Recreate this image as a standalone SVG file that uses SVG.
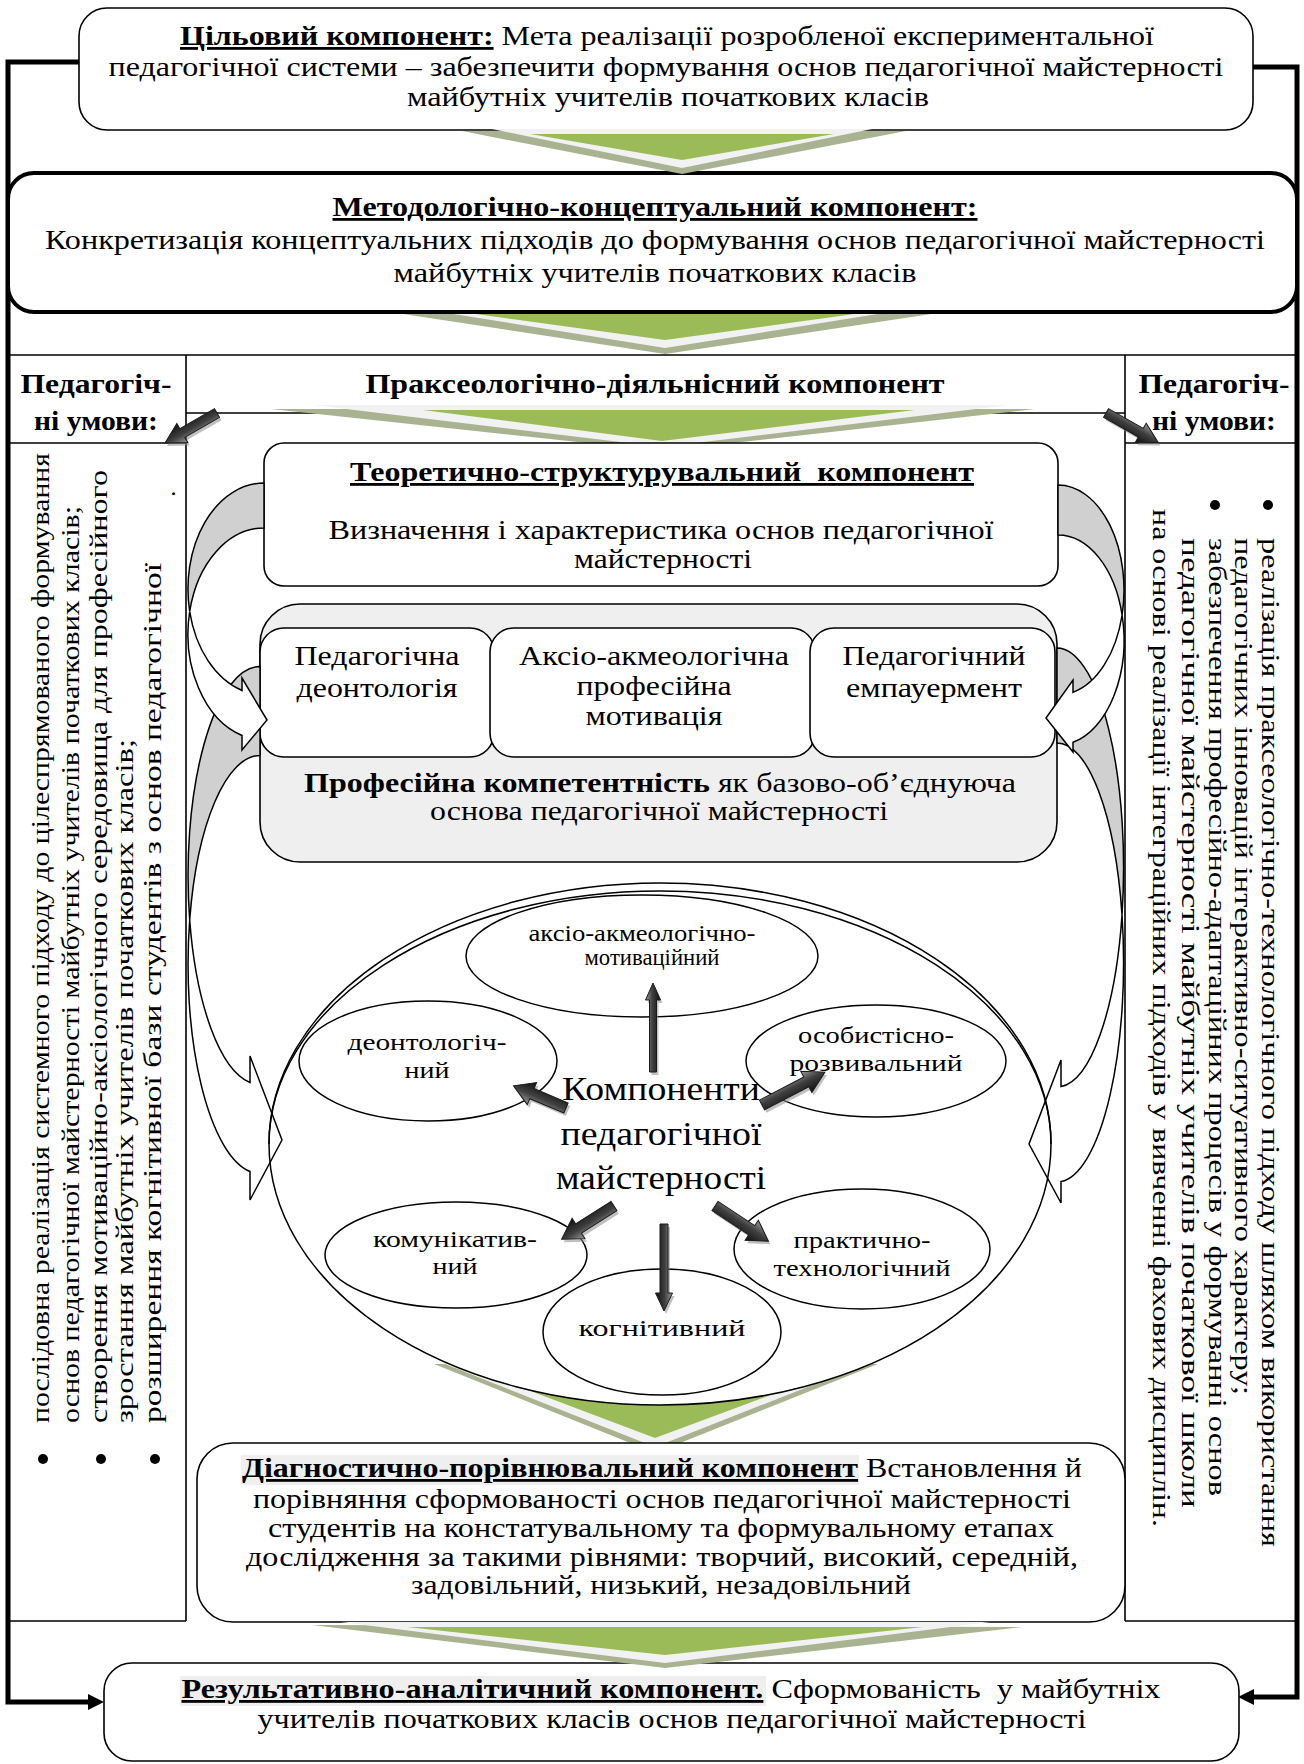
<svg xmlns="http://www.w3.org/2000/svg" width="1304" height="1764" viewBox="0 0 1304 1764">
<defs>
<style>
text{font-family:"Liberation Serif","Times New Roman",serif;fill:#000}
.t{font-size:28px}
.c{text-anchor:middle}
.b{font-weight:bold}
.u{text-decoration:underline}
.s{font-size:23px}
.big{font-size:34px}
.v{font-size:26px}
.box{fill:#fff;stroke:#000;stroke-width:1.6}
.frame{fill:none;stroke:#000;stroke-width:5}
.thin{fill:none;stroke:#000;stroke-width:1.6}
.shadow{fill:#a9b391}
.light{fill:#f2f2f2}
.green{fill:#9bbb59}
.garr{fill:#d0d0d0;stroke:#000;stroke-width:1.5}
.warr{fill:#fff;stroke:#000;stroke-width:1.5}
.darr{fill:url(#dg);stroke:#1a1a1a;stroke-width:1}
.dsh{fill:#8c8c8c;opacity:.55}
.ell{fill:#fff;stroke:#000;stroke-width:1.5}
.hl{fill:#efefef}
</style>
<linearGradient id="dg" x1="0" y1="0" x2="0" y2="1">
<stop offset="0" stop-color="#9a9a9a"/>
<stop offset="0.45" stop-color="#404040"/>
<stop offset="1" stop-color="#101010"/>
</linearGradient>
<marker id="ah" viewBox="0 0 16 16" markerWidth="16" markerHeight="16" refX="8" refY="8" orient="auto" markerUnits="userSpaceOnUse"><path d="M0,0 L16,8 L0,16 Z" fill="#000"/></marker>
<path id="pa1" d="M0,-3.5 L72,-3.5 L72,-7.5 L89,0 L72,7.5 L72,3.5 L0,3.5 Z"/>
<path id="pa2" d="M0,-4 L69,-4 L69,-8.5 L87,0 L69,8.5 L69,4 L0,4 Z"/>
<path id="pa3" d="M0,-5.5 L37,-5.5 L37,-12 L57,0 L37,12 L37,5.5 L0,5.5 Z"/>
<path id="pa4" d="M0,-5.5 L50,-5.5 L50,-12 L71,0 L50,12 L50,5.5 L0,5.5 Z"/>
<path id="pa5" d="M0,-5.5 L42,-5.5 L42,-12 L62,0 L42,12 L42,5.5 L0,5.5 Z"/>
<path id="pa6" d="M0,-5.5 L44,-5.5 L44,-12 L64,0 L44,12 L44,5.5 L0,5.5 Z"/>
<path id="pa7" d="M0,-5 L40,-5 L40,-11 L60,0 L40,11 L40,5 L0,5 Z"/>
</defs>
<rect width="1304" height="1764" fill="#fff"/>

<g id="chevron-b">
<polygon class="shadow" points="337,304 998,304 665,354"/>
<polygon class="light" points="366,300 965,300 665,348"/>
<polygon class="green" points="410,305 920,305 665,340"/>
</g>

<g id="connectors">
<path class="frame" d="M79,62 H8 V1702 H96" marker-end="url(#ah)"/>
<path class="frame" d="M1253,67 H1297 V1697 H1246" marker-end="url(#ah)"/>
</g>

<g id="node-goal">
<rect class="box" x="79" y="8" width="1174" height="122" rx="28"/>
<text class="t c" x="667" y="45" textLength="974" lengthAdjust="spacingAndGlyphs"><tspan class="b u">Цільовий компонент:</tspan> Мета реалізації розробленої експериментальної</text>
<text class="t c" x="666" y="76" textLength="1115" lengthAdjust="spacingAndGlyphs">педагогічної системи – забезпечити формування основ педагогічної майстерності</text>
<text class="t c" x="668" y="106" textLength="522" lengthAdjust="spacingAndGlyphs">майбутніх учителів початкових класів</text>
</g>

<g id="node-method">
<rect x="8" y="173" width="1289" height="139" rx="26" fill="#fff" stroke="#000" stroke-width="4"/>
<text class="t c b u" x="655" y="216" textLength="645" lengthAdjust="spacingAndGlyphs">Методологічно-концептуальний компонент:</text>
<text class="t c" x="655" y="249" textLength="1220" lengthAdjust="spacingAndGlyphs">Конкретизація концептуальних підходів до формування основ педагогічної майстерності</text>
<text class="t c" x="655" y="282" textLength="523" lengthAdjust="spacingAndGlyphs">майбутніх учителів початкових класів</text>
</g>

<g id="chevron-a">
<polygon class="shadow" points="462,131 906,131 682,174"/>
<polygon class="light" points="492,129 872,129 682,168"/>
<polygon class="green" points="530,134 834,134 682,160"/>
</g>

<g id="table">
<path class="thin" d="M8,355 H1297 M186,355 V1621 M1125,355 V1621 M8,443 H186 M1125,443 H1297 M8,1621 H186 M1125,1621 H1297 M186,413 H1125"/>
</g>

<g id="node-conditions-left">
<text class="t c b" x="96" y="393" textLength="151" lengthAdjust="spacingAndGlyphs">Педагогіч-</text>
<text class="t c b" x="96" y="430" textLength="124" lengthAdjust="spacingAndGlyphs">ні умови:</text>
<text class="v" transform="translate(49,1423) rotate(-90)" textLength="970" lengthAdjust="spacingAndGlyphs">послідовна реалізація системного підходу до цілеспрямованого формування</text>
<text class="v" transform="translate(79,1423) rotate(-90)" textLength="917" lengthAdjust="spacingAndGlyphs">основ педагогічної майстерності майбутніх учителів початкових класів;</text>
<text class="v" transform="translate(107,1423) rotate(-90)" textLength="953" lengthAdjust="spacingAndGlyphs">створення мотиваційно-аксіологічного середовища для професійного</text>
<text class="v" transform="translate(133,1423) rotate(-90)" textLength="684" lengthAdjust="spacingAndGlyphs">зростання майбутніх учителів початкових класів;</text>
<text class="v" transform="translate(161,1423) rotate(-90)" textLength="860" lengthAdjust="spacingAndGlyphs">розширення когнітивної бази студентів з основ педагогічної</text>
<text class="v" transform="translate(175,497) rotate(-90)">.</text>
<circle cx="43" cy="1459" r="5"/>
<circle cx="101" cy="1459" r="5"/>
<circle cx="155" cy="1459" r="5"/>
</g>

<g id="node-conditions-right">
<text class="t c b" x="1214" y="393" textLength="151" lengthAdjust="spacingAndGlyphs">Педагогіч-</text>
<text class="t c b" x="1214" y="430" textLength="124" lengthAdjust="spacingAndGlyphs">ні умови:</text>
<circle cx="1268" cy="505" r="5"/>
<circle cx="1215" cy="505" r="5"/>
<text class="v" transform="translate(1262,538) rotate(90)" textLength="1009" lengthAdjust="spacingAndGlyphs">реалізація праксеологічно-технологічного підходу шляхом використання</text>
<text class="v" transform="translate(1235,538) rotate(90)" textLength="857" lengthAdjust="spacingAndGlyphs">педагогічних інновацій інтерактивно-ситуативного характеру;</text>
<text class="v" transform="translate(1209,538) rotate(90)" textLength="958" lengthAdjust="spacingAndGlyphs">забезпечення професійно-адаптаційних процесів у формуванні основ</text>
<text class="v" transform="translate(1182,538) rotate(90)" textLength="970" lengthAdjust="spacingAndGlyphs">педагогічної майстерності майбутніх учителів початкової школи</text>
<text class="v" transform="translate(1153,509) rotate(90)" textLength="1018" lengthAdjust="spacingAndGlyphs">на основі реалізації інтеграційних підходів у вивченні фахових дисциплін.</text>
</g>

<g id="node-praxeo">
<text class="t c b" x="655" y="393" textLength="579" lengthAdjust="spacingAndGlyphs">Праксеологічно-діяльнісний компонент</text>
</g>

<g id="chevron-c">
<polygon class="shadow" points="271,409 1035,409 662,451"/>
<polygon class="light" points="313,405 1009,405 662,447"/>
<polygon class="green" points="423,410 915,410 662,441"/>
</g>

<g id="node-theory">
<rect class="box" x="264" y="443" width="794" height="143" rx="20"/>
<text class="t c b u" x="662" y="481" textLength="624" lengthAdjust="spacingAndGlyphs">Теоретично-структурувальний&#160; компонент</text>
<text class="t c" x="661" y="539" textLength="665" lengthAdjust="spacingAndGlyphs">Визначення і характеристика основ педагогічної</text>
<text class="t c" x="663" y="568" textLength="178" lengthAdjust="spacingAndGlyphs">майстерності</text>
</g>

<g id="node-competence">
<rect x="260" y="604" width="797" height="258" rx="40" fill="#efefef" stroke="#000" stroke-width="1.6"/>
<text class="t c" x="660" y="792" textLength="712" lengthAdjust="spacingAndGlyphs"><tspan class="b">Професійна компетентність</tspan> як базово-об’єднуюча</text>
<text class="t c" x="659" y="820" textLength="458" lengthAdjust="spacingAndGlyphs">основа педагогічної майстерності</text>
</g>

<g id="node-deontology">
<rect class="box" x="260" y="628" width="234" height="129" rx="24"/>
<text class="t c" x="377" y="665" textLength="165" lengthAdjust="spacingAndGlyphs">Педагогічна</text>
<text class="t c" x="377" y="697" textLength="161" lengthAdjust="spacingAndGlyphs">деонтологія</text>
</g>
<g id="node-motivation">
<rect class="box" x="490" y="628" width="325" height="129" rx="24"/>
<text class="t c" x="654" y="665" textLength="270" lengthAdjust="spacingAndGlyphs">Аксіо-акмеологічна</text>
<text class="t c" x="654" y="695" textLength="155" lengthAdjust="spacingAndGlyphs">професійна</text>
<text class="t c" x="654" y="725" textLength="137" lengthAdjust="spacingAndGlyphs">мотивація</text>
</g>
<g id="node-empowerment">
<rect class="box" x="810" y="628" width="245" height="129" rx="24"/>
<text class="t c" x="934" y="665" textLength="183" lengthAdjust="spacingAndGlyphs">Педагогічний</text>
<text class="t c" x="934" y="697" textLength="176" lengthAdjust="spacingAndGlyphs">емпауермент</text>
</g>

<g id="chevron-d">
<polygon class="shadow" points="434,1364 878,1364 655,1453"/>
<polygon class="light" points="440,1362 871,1362 655,1447"/>
<polygon class="green" points="475,1370 838,1370 655,1438"/>
</g>

<g id="node-components-fill">
<ellipse cx="660" cy="1144" rx="391" ry="261" fill="#fff"/>
</g>

<g id="curved-arrows">
<path class="garr" d="M260,666.5 A72,209 0 0 0 189.7,920 A72,209 0 0 1 260,755.5 Z"/>
<path class="warr" d="M189.7,920 A72,209 0 0 0 250,1171.5 L250,1200 L282,1140 L250,1056 L250,1082.5 A72,209 0 0 1 189.7,920 Z"/>
<path class="garr" d="M1057,648 A66.6,219.5 0 0 1 1122,915 A66.6,219.5 0 0 0 1057,743 Z"/>
<path class="warr" d="M1122,915 A66.6,219.5 0 0 1 1061,1181.6 L1061,1203 L1029,1144 L1061,1060 L1061,1086.6 A66.6,219.5 0 0 0 1122,915 Z"/>
<path class="garr" d="M264,483 A76,106 0 0 0 189.7,611.5 A76,106 0 0 1 264,528 Z"/>
<path class="warr" d="M189.7,611.5 A76,106 0 0 0 242,735.5 L242,750 L267,720 L242,678 L242,690.5 A76,106 0 0 1 189.7,611.5 Z"/>
<path class="garr" d="M1058,485 A66,105 0 0 1 1122.1,615 A66,105 0 0 0 1058,535 Z"/>
<path class="warr" d="M1122.1,615 A66,105 0 0 1 1073,742.3 L1073,752 L1046,718 L1073,680 L1073,692.3 A66,105 0 0 0 1122.1,615 Z"/>
</g>

<g id="node-components">
<ellipse cx="660" cy="1144" rx="391" ry="261" fill="none" stroke="#000" stroke-width="1.5"/>
<path d="M269,1144 A391,253 0 0 1 1051,1144" fill="none" stroke="#000" stroke-width="1.5"/>
<text class="big c" x="661" y="1100" textLength="198" lengthAdjust="spacingAndGlyphs">Компоненти</text>
<text class="big c" x="661" y="1145" textLength="201" lengthAdjust="spacingAndGlyphs">педагогічної</text>
<text class="big c" x="661" y="1189" textLength="210" lengthAdjust="spacingAndGlyphs">майстерності</text>
</g>

<g id="node-cognitive">
<ellipse class="ell" cx="662" cy="1332" rx="119" ry="63"/>
<text class="s c" x="662" y="1336" textLength="167" lengthAdjust="spacingAndGlyphs">когнітивний</text>
</g>
<g id="node-axio">
<ellipse class="ell" cx="642" cy="956" rx="176" ry="61"/>
<text class="s c" x="642" y="941" textLength="227" lengthAdjust="spacingAndGlyphs">аксіо-акмеологічно-</text>
<text class="s c" x="652" y="965" textLength="135" lengthAdjust="spacingAndGlyphs">мотиваційний</text>
</g>
<g id="node-deont">
<ellipse class="ell" cx="428" cy="1061" rx="129" ry="60"/>
<text class="s c" x="427" y="1050" textLength="159" lengthAdjust="spacingAndGlyphs">деонтологіч-</text>
<text class="s c" x="427" y="1078" textLength="45" lengthAdjust="spacingAndGlyphs">ний</text>
</g>
<g id="node-personal">
<ellipse class="ell" cx="876" cy="1061" rx="130" ry="56"/>
<text class="s c" x="876" y="1043" textLength="156" lengthAdjust="spacingAndGlyphs">особистісно-</text>
<text class="s c" x="876" y="1071" textLength="173" lengthAdjust="spacingAndGlyphs">розвивальний</text>
</g>
<g id="node-communicative">
<ellipse class="ell" cx="456" cy="1255" rx="131" ry="53"/>
<text class="s c" x="455" y="1247" textLength="164" lengthAdjust="spacingAndGlyphs">комунікатив-</text>
<text class="s c" x="455" y="1274" textLength="45" lengthAdjust="spacingAndGlyphs">ний</text>
</g>
<g id="node-practical">
<ellipse class="ell" cx="862" cy="1249" rx="128" ry="60"/>
<text class="s c" x="862" y="1248" textLength="137" lengthAdjust="spacingAndGlyphs">практично-</text>
<text class="s c" x="862" y="1276" textLength="177" lengthAdjust="spacingAndGlyphs">технологічний</text>
</g>

<g id="dark-arrows">
<use href="#pa7" class="dsh" transform="translate(219,416) rotate(150)"/>
<use href="#pa7" class="darr" transform="translate(217,413) rotate(150)"/>
<use href="#pa7" class="dsh" transform="translate(1108,416) rotate(29.5)"/>
<use href="#pa7" class="darr" transform="translate(1106,413) rotate(29.5)"/>
<use href="#pa1" class="dsh" transform="translate(655,1075) rotate(-90)"/>
<use href="#pa1" class="darr" transform="translate(653,1072) rotate(-90)"/>
<use href="#pa2" class="dsh" transform="translate(666,1227) rotate(90)"/>
<use href="#pa2" class="darr" transform="translate(664,1224) rotate(90)"/>
<use href="#pa3" class="dsh" transform="translate(568,1111) rotate(202.9)"/>
<use href="#pa3" class="darr" transform="translate(566,1108) rotate(202.9)"/>
<use href="#pa4" class="dsh" transform="translate(764,1108) rotate(-27.6)"/>
<use href="#pa4" class="darr" transform="translate(762,1105) rotate(-27.6)"/>
<use href="#pa5" class="dsh" transform="translate(616,1209) rotate(147.6)"/>
<use href="#pa5" class="darr" transform="translate(614,1206) rotate(147.6)"/>
<use href="#pa6" class="dsh" transform="translate(717,1209) rotate(33.4)"/>
<use href="#pa6" class="darr" transform="translate(715,1206) rotate(33.4)"/>
</g>

<g id="node-diagnostic">
<rect class="box" x="197" y="1443" width="928" height="179" rx="36"/>
<rect class="hl" x="241" y="1455" width="618" height="30"/>
<text class="t c" x="662" y="1477" textLength="840" lengthAdjust="spacingAndGlyphs"><tspan class="b u">Діагностично-порівнювальний компонент</tspan> Встановлення й</text>
<text class="t c" x="662" y="1508" textLength="818" lengthAdjust="spacingAndGlyphs">порівняння сформованості основ педагогічної майстерності</text>
<text class="t c" x="661" y="1537" textLength="786" lengthAdjust="spacingAndGlyphs">студентів на констатувальному та формувальному етапах</text>
<text class="t c" x="662" y="1566" textLength="832" lengthAdjust="spacingAndGlyphs">дослідження за такими рівнями: творчий, високий, середній,</text>
<text class="t c" x="661" y="1594" textLength="500" lengthAdjust="spacingAndGlyphs">задовільний, низький, незадовільний</text>
</g>

<g id="node-result">
<rect class="box" x="104" y="1663" width="1135" height="98" rx="28"/>
<rect class="hl" x="180" y="1676" width="586" height="30"/>
<text class="t c" x="671" y="1698" textLength="979" lengthAdjust="spacingAndGlyphs"><tspan class="b u">Результативно-аналітичний компонент.</tspan> Сформованість&#160; у майбутніх</text>
<text class="t c" x="672" y="1728" textLength="829" lengthAdjust="spacingAndGlyphs">учителів початкових класів основ педагогічної майстерності</text>
</g>

<g id="chevron-e">
<polygon class="shadow" points="312,1625 1023,1627 665,1668"/>
<polygon class="light" points="341,1622 990,1622 665,1663"/>
<polygon class="green" points="407,1627 923,1627 665,1655"/>
</g>
</svg>
